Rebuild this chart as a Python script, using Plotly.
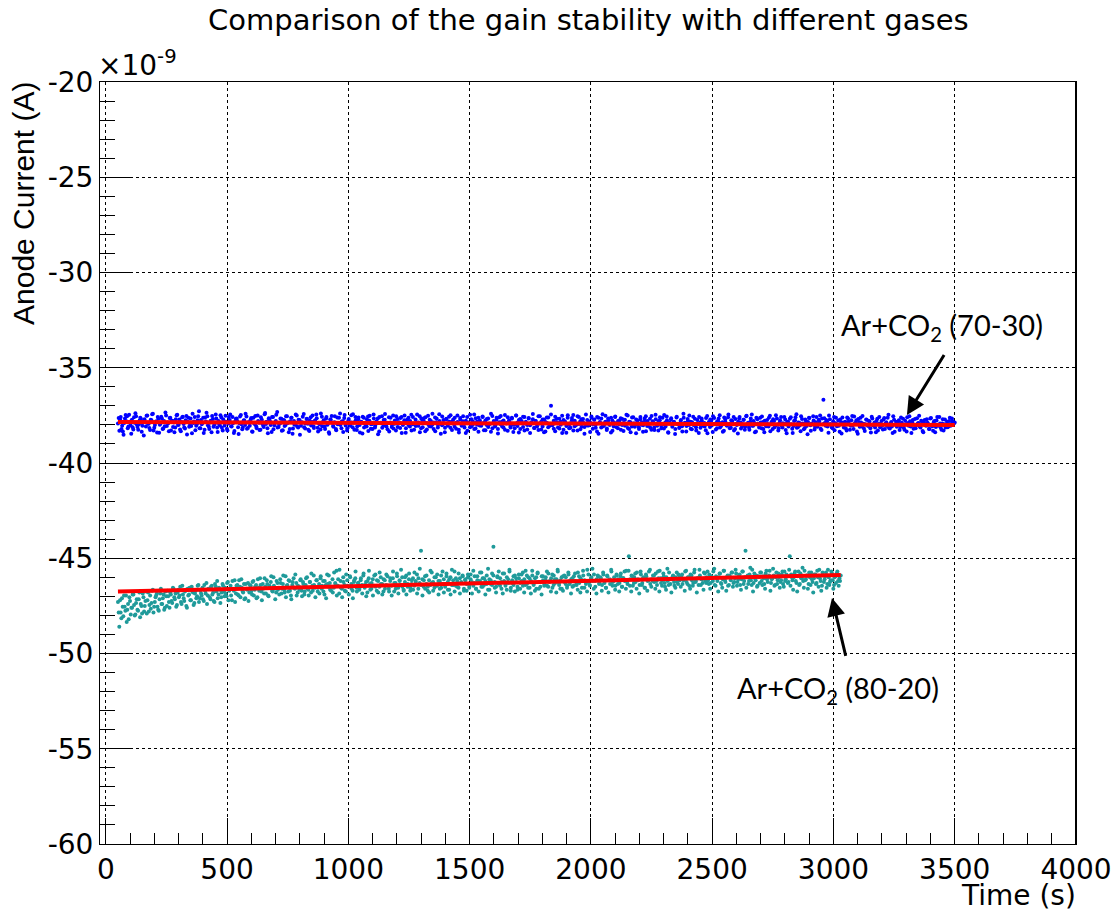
import numpy as np
import plotly.graph_objects as go

# ---------------- data (anode current in units of 1e-9 A) ----------------
# two interleaved sampling grids per gas mixture
time_range_7030_a = [50, 3500]
time_range_7030_b = [53, 3497]
time_range_8020_a = [50, 3030]
time_range_8020_b = [53, 3027]

current_7030_a = [
    -37.92,-38.31,-37.58,-38.05,-38.52,-37.66,-37.81,-38.18,-37.47,-38.02,-37.73,-38.24,-37.89,-37.55,-38.11,-37.97,-37.62,-38.36,-37.84,-37.70,
    -38.08,-37.51,-37.94,-38.27,-37.76,-37.42,-38.15,-37.86,-38.40,-37.68,-37.99,-37.57,-38.21,-37.80,-37.35,-38.06,-37.91,-37.64,-38.29,-37.78,
    -37.87,-38.13,-37.49,-38.01,-37.72,-38.33,-37.60,-37.95,-38.19,-37.53,-37.83,-38.10,-37.67,-38.44,-37.90,-37.58,-38.04,-37.75,-37.29,-38.17,
    -37.96,-37.63,-38.25,-37.82,-37.54,-38.09,-37.88,-38.38,-37.69,-37.98,-37.45,-38.14,-37.79,-38.03,-37.61,-38.30,-37.85,-37.52,-38.20,-37.93,
    -37.74,-38.07,-37.59,-38.42,-37.81,-37.66,-38.12,-37.91,-37.48,-38.23,-37.77,-38.00,-37.56,-38.16,-37.86,-37.71,-38.34,-37.63,-37.97,-38.09,
    -37.50,-37.89,-38.26,-37.73,-38.05,-37.44,-37.95,-38.18,-37.65,-37.84,-38.37,-37.58,-38.02,-37.79,-37.32,-38.11,-37.92,-37.68,-38.28,-37.76,
    -38.01,-37.55,-37.87,-38.21,-37.62,-38.46,-37.80,-37.97,-37.51,-38.13,-37.74,-38.04,-37.88,-37.43,-38.19,-37.69,-37.94,-38.32,-37.60,-37.85,
    -38.07,-37.77,-37.46,-38.15,-37.90,-38.24,-37.57,-37.83,-38.10,-37.67,-37.99,-38.39,-37.72,-37.53,-38.06,-37.86,-38.22,-37.61,-37.93,-37.40,
    -38.17,-37.81,-37.64,-38.03,-38.30,-37.75,-37.96,-37.49,-38.12,-37.88,-37.59,-38.27,-37.70,-38.00,-37.84,-38.45,-37.63,-37.91,-38.08,-37.56,
    -37.78,-38.20,-37.95,-37.45,-38.14,-37.82,-37.66,-38.35,-37.89,-37.54,-38.05,-37.73,-37.98,-38.23,-37.60,-37.87,-38.11,-37.50,-37.94,-38.29,
    -37.69,-37.92,-38.16,-37.58,-38.01,-37.76,-38.41,-37.85,-37.62,-38.09,-37.47,-37.97,-38.25,-37.71,-37.88,-38.04,-37.55,-38.18,-37.80,-37.65,
    -38.33,-37.90,-37.52,-38.07,-37.79,-37.99,-38.21,-37.61,-37.86,-38.13,-37.44,-37.93,-38.02,-37.74,-38.38,-37.68,-37.96,-37.57,-38.15,-37.83,
    -37.72,-38.10,-37.89,-37.50,-38.26,-37.64,-38.05,-37.81,-37.95,-38.43,-37.59,-37.87,-38.12,-37.70,-37.98,-37.46,-38.19,-37.84,-37.63,-38.03,
    -37.91,-37.56,-38.28,-37.77,-38.00,-37.67,-37.94,-38.36,-37.53,-37.85,-38.08,-37.73,-38.22,-37.60,-37.97,-37.82,-38.14,-37.48,-37.90,-38.31,
    -37.75,-38.06,-37.62,-37.99,-38.18,-37.51,-37.88,-38.40,-37.69,-37.80,-38.11,-37.58,-37.93,-38.24,-37.66,-38.02,-37.86,-37.43,-38.16,-37.79,
    -37.96,-38.27,-37.54,-37.83,-38.09,-37.71,-38.35,-37.89,-37.61,-38.04,-37.00,-37.94,-38.20,-37.57,-37.86,-38.13,-37.68,-37.99,-38.42,-37.74,
    -37.82,-38.06,-37.49,-38.17,-37.91,-37.64,-38.29,-37.78,-38.01,-37.55,-37.95,-38.23,-37.70,-37.87,-38.11,-37.45,-38.03,-37.81,-38.37,-37.62,
    -37.98,-37.73,-38.15,-37.59,-38.46,-37.85,-37.67,-38.08,-37.92,-37.52,-38.19,-37.77,-38.00,-37.63,-38.31,-37.88,-37.56,-38.12,-37.80,-37.97,
    -38.25,-37.69,-37.90,-38.05,-37.47,-38.16,-37.84,-38.38,-37.61,-37.93,-38.10,-37.72,-37.99,-38.21,-37.58,-37.86,-38.02,-37.66,-38.33,-37.79,
    -37.94,-38.14,-37.53,-37.87,-38.27,-37.70,-38.04,-37.82,-37.60,-38.18,-37.96,-37.48,-38.09,-37.75,-38.41,-37.89,-37.65,-38.01,-37.83,-38.22,
    -37.57,-37.97,-38.12,-37.74,-38.35,-37.62,-37.91,-38.06,-37.80,-37.51,-38.20,-37.86,-38.00,-37.68,-38.29,-37.93,-37.59,-38.15,-37.78,-37.99,
    -38.08,-37.64,-38.44,-37.85,-37.72,-38.03,-37.55,-37.95,-38.24,-37.81,-37.67,-38.13,-37.90,-38.36,-37.61,-37.88,-38.05,-37.46,-38.17,-37.76,
    -37.92,-38.30,-37.69,-38.01,-37.84,-37.58,-38.19,-37.97,-37.73,-38.10,-37.52,-37.89,-38.26,-37.66,-38.04,-37.80,-38.39,-37.63,-37.94,-38.14,
    -37.87,-37.56,-38.21,-37.78,-38.07,-37.95,-37.62,-38.33,-37.83,-37.70,-38.12,-37.49,-37.99,-38.18,-37.75,-38.02,-37.91,-37.58,-38.27,-37.86,
    -38.09,-37.68,-37.96,-38.42,-37.79,-37.60,-38.15,-37.88,-38.03,-37.54,-37.93,-38.23,-37.71,-38.06,-37.85,-37.64,-38.31,-37.97,-37.77,-38.11,
    -37.59,-38.00,-37.82,-38.20,-37.67,-36.68,-37.90,-37.74,-38.08,-37.50,-37.95,-38.14,-37.81,-38.28,-37.63,-37.98,-38.05,-37.72,-38.45,-37.87,
    -37.93,-38.17,-37.61,-37.84,-38.25,-37.76,-38.02,-37.56,-37.91,-38.34,-37.69,-38.10,-37.88,-37.53,-38.19,-37.97,-37.73,-38.06,-37.82,-38.40,
    -37.66,-37.99,-38.13,-37.79,-38.30,-37.58,-37.94,-38.04,-37.71,-38.22,-37.86,-37.63,-38.16,-37.92,-38.08,-37.55,-38.36,-37.83,-38.01,-37.75,
    -38.11,-37.89,-37.68,-38.26,-37.96,-37.60,-38.05,-37.81,-38.43,-37.74,-37.99,-38.18,-37.65,-37.90,-38.09,-37.78,-38.32,-37.87,-38.02,-37.70,
    -37.95,-38.21,-37.64,-38.07,-37.85,-38.38,-37.77,-38.00,-37.59,-38.15,-37.92,-38.29,-37.72,-37.98,-38.12,-37.80,-38.04,-37.67,-37.93,-37.88,
]

current_7030_b = [
    -37.64,-37.71,-38.22,-38.35,-37.90,-37.48,-37.55,-38.09,-37.83,-38.47,-38.12,-37.60,-37.39,-37.98,-38.26,-37.77,-37.69,-38.04,-38.55,-37.86,
    -37.52,-37.94,-38.16,-37.73,-37.44,-38.30,-38.01,-37.81,-37.58,-38.41,-37.92,-37.66,-38.19,-38.07,-37.50,-37.87,-38.33,-37.62,-37.79,-38.11,
    -38.38,-37.70,-37.47,-37.99,-38.24,-37.85,-37.57,-38.14,-37.76,-38.50,-37.63,-37.93,-38.06,-37.41,-37.82,-38.28,-37.96,-37.54,-38.18,-37.74,
    -37.88,-38.43,-37.61,-37.36,-38.02,-38.21,-37.78,-37.53,-38.10,-37.89,-37.67,-38.37,-37.95,-37.49,-38.15,-37.72,-38.03,-37.84,-38.29,-37.59,
    -37.45,-38.08,-37.91,-38.32,-37.68,-37.80,-38.48,-37.56,-37.97,-38.13,-37.75,-37.42,-38.20,-37.86,-38.05,-37.64,-38.36,-37.90,-37.53,-38.17,
    -37.79,-38.27,-37.60,-37.94,-38.11,-37.38,-37.83,-38.44,-37.70,-38.00,-37.58,-38.23,-37.88,-37.47,-38.14,-37.95,-37.66,-38.31,-37.74,-38.06,
    -37.55,-37.90,-38.39,-37.81,-37.62,-38.19,-37.99,-37.46,-38.08,-37.73,-38.52,-37.86,-37.57,-38.12,-37.93,-37.68,-38.25,-37.78,-38.03,-37.50,
    -38.16,-37.84,-37.65,-38.34,-37.97,-37.40,-38.07,-37.76,-38.21,-37.59,-37.92,-38.46,-37.71,-37.87,-38.10,-37.54,-38.28,-37.96,-37.63,-38.01,
    -37.82,-38.37,-37.48,-37.94,-38.18,-37.69,-38.05,-37.88,-37.44,-38.26,-37.75,-38.09,-37.61,-38.40,-37.85,-37.57,-38.13,-37.98,-37.70,-38.32,
    -37.52,-37.96,-38.22,-37.67,-38.04,-37.83,-38.49,-37.58,-37.91,-38.15,-37.74,-37.43,-38.08,-37.89,-38.35,-37.62,-37.99,-38.19,-37.77,-37.55,
    -38.11,-37.86,-37.64,-38.42,-37.93,-37.51,-38.17,-37.72,-38.02,-37.80,-38.29,-37.59,-37.95,-38.06,-37.45,-37.88,-38.38,-37.68,-38.12,-37.84,
    -37.60,-38.24,-37.97,-37.73,-38.09,-37.41,-37.87,-38.33,-37.66,-38.01,-37.79,-38.47,-37.56,-37.92,-38.15,-37.70,-38.05,-37.83,-37.49,-38.27,
    -37.94,-37.62,-38.20,-37.85,-38.40,-37.71,-37.98,-37.54,-38.13,-37.78,-38.31,-37.90,-37.47,-38.07,-37.82,-38.22,-37.65,-37.99,-38.36,-37.75,
    -38.04,-37.58,-37.89,-38.28,-37.69,-38.11,-37.95,-37.42,-38.18,-37.80,-38.03,-37.63,-38.45,-37.86,-37.53,-38.09,-37.77,-38.25,-37.92,-37.60,
    -37.81,-38.14,-37.67,-38.37,-37.96,-37.50,-38.06,-37.74,-38.21,-37.88,-37.57,-38.30,-37.84,-38.00,-37.64,-38.43,-37.91,-37.70,-38.16,-37.79,
    -38.08,-37.55,-37.93,-38.24,-37.72,-38.39,-37.85,-37.61,-38.12,-37.97,-37.46,-38.02,-37.78,-38.33,-37.68,-37.90,-38.19,-37.83,-37.52,-38.26,
    -37.87,-38.41,-37.63,-37.99,-38.15,-37.76,-37.48,-38.07,-37.92,-38.29,-37.59,-37.81,-38.10,-37.69,-38.47,-37.95,-37.74,-38.03,-37.86,-37.56,
    -38.20,-37.71,-37.98,-38.35,-37.62,-37.89,-38.13,-37.44,-38.05,-37.83,-38.27,-37.67,-37.94,-38.40,-37.77,-38.09,-37.58,-37.91,-38.17,-37.80,
    -37.65,-38.01,-38.32,-37.73,-37.96,-37.51,-38.22,-37.86,-38.08,-37.60,-37.93,-38.44,-37.79,-38.12,-37.70,-37.99,-38.36,-37.84,-37.54,-38.06,
    -37.92,-37.68,-38.25,-37.81,-38.14,-37.47,-37.97,-38.30,-37.75,-38.03,-37.63,-38.19,-37.88,-37.56,-38.38,-37.90,-37.72,-38.10,-37.85,-38.48,
    -37.61,-37.95,-38.16,-37.78,-38.07,-37.42,-37.89,-38.34,-37.69,-38.00,-37.83,-38.23,-37.57,-37.96,-38.12,-37.74,-38.42,-37.87,-37.66,-38.04,
    -37.90,-38.28,-37.53,-37.98,-38.11,-37.77,-38.37,-37.64,-37.93,-38.18,-37.82,-37.49,-38.06,-37.86,-38.31,-37.71,-38.02,-37.60,-37.95,-38.15,
    -37.80,-37.58,-38.21,-37.94,-38.45,-37.67,-37.88,-38.09,-37.73,-38.26,-37.55,-37.99,-38.13,-37.84,-37.46,-38.05,-37.91,-38.35,-37.70,-38.01,
    -37.62,-38.17,-37.85,-38.39,-37.97,-37.74,-38.08,-37.52,-37.90,-38.22,-37.79,-38.03,-37.66,-38.30,-37.87,-37.58,-38.14,-37.95,-37.71,-38.44,
    -37.83,-37.98,-37.60,-38.20,-38.06,-37.76,-37.44,-38.12,-37.89,-38.33,-37.69,-37.94,-38.16,-37.81,-38.49,-37.63,-38.02,-37.92,-37.55,-38.24,
    -37.86,-38.10,-37.73,-37.50,-38.27,-37.96,-37.65,-38.04,-37.82,-38.41,-37.70,-37.99,-38.18,-37.58,-37.91,-38.07,-37.77,-38.36,-37.88,-37.61,
    -38.13,-37.84,-38.29,-37.67,-37.97,-38.05,-37.53,-38.21,-37.90,-37.75,-38.46,-37.86,-37.62,-38.09,-37.94,-38.32,-37.71,-38.00,-37.80,-38.17,
    -37.57,-38.03,-37.88,-38.38,-37.68,-37.95,-38.12,-37.79,-38.24,-37.64,-37.92,-38.06,-37.47,-38.19,-37.85,-38.43,-37.73,-37.98,-38.10,-37.83,
    -38.27,-37.61,-37.96,-38.15,-37.78,-38.35,-37.90,-37.55,-38.08,-37.87,-38.20,-37.69,-38.01,-37.93,-37.52,-38.14,-37.82,-38.39,-37.74,-38.05,
    -37.89,-38.22,-37.66,-37.99,-38.31,-37.80,-38.11,-37.59,-38.04,-37.92,-38.26,-37.70,-37.97,-38.13,-37.84,-38.07,-37.63,-37.95,-37.81,-37.91,
]

current_8020_a = [
    -47.30,-48.60,-47.85,-47.10,-48.05,-47.55,-46.95,-47.70,-48.20,-47.25,-47.60,-46.90,-47.45,-47.95,-47.15,-47.75,-46.80,-47.40,-47.90,-47.05,
    -47.50,-46.75,-47.20,-47.80,-46.95,-47.35,-46.65,-47.55,-47.05,-46.85,-47.70,-47.15,-46.60,-47.40,-46.90,-47.60,-47.00,-46.70,-47.30,-46.80,
    -47.25,-46.55,-47.05,-46.85,-47.45,-46.65,-46.95,-47.30,-46.45,-47.10,-46.75,-47.50,-46.60,-46.90,-47.20,-46.50,-46.80,-47.35,-46.70,-47.00,
    -46.40,-47.10,-46.85,-46.55,-47.25,-46.70,-46.30,-46.95,-46.60,-47.15,-46.45,-46.80,-47.30,-46.50,-46.20,-46.90,-46.65,-47.05,-46.35,-46.75,
    -46.55,-47.00,-46.25,-46.70,-46.45,-47.20,-46.60,-46.15,-46.85,-46.40,-46.95,-46.50,-46.10,-46.75,-46.35,-47.10,-46.60,-46.30,-46.80,-46.45,
    -46.90,-46.20,-46.65,-46.40,-47.05,-46.55,-46.05,-46.75,-46.35,-46.85,-46.50,-46.15,-46.95,-46.45,-46.25,-46.70,-46.00,-46.60,-46.80,-46.30,
    -46.55,-46.10,-46.85,-46.35,-46.65,-45.95,-46.45,-46.75,-46.20,-46.95,-46.40,-46.05,-46.60,-46.30,-46.80,-46.50,-46.15,-46.70,-46.25,-46.90,
    -46.40,-46.00,-46.65,-46.25,-46.80,-46.45,-45.90,-46.55,-46.15,-46.75,-46.35,-46.05,-46.60,-46.20,-46.90,-46.40,-45.85,-46.50,-46.30,-46.70,
    -46.10,-46.55,-46.30,-45.65,-46.45,-46.85,-46.20,-46.60,-46.00,-46.40,-46.75,-46.15,-46.50,-45.95,-46.35,-46.70,-46.25,-46.05,-46.55,-46.30,
    -46.65,-46.15,-46.40,-45.90,-46.55,-46.25,-46.80,-46.05,-46.35,-46.60,-46.10,-46.45,-45.85,-46.70,-46.20,-46.50,-46.00,-46.35,-46.75,-46.15,
    -46.40,-45.95,-46.60,-46.20,-46.45,-46.05,-46.75,-46.30,-45.80,-46.55,-46.15,-46.40,-46.00,-46.65,-46.25,-45.90,-46.50,-46.10,-46.70,-46.35,
    -46.05,-46.45,-46.20,-45.85,-46.60,-46.30,-44.60,-46.10,-46.50,-45.95,-46.35,-46.70,-46.15,-46.40,-45.75,-46.25,-46.55,-46.00,-46.45,-46.20,
    -46.60,-45.90,-46.35,-46.10,-46.50,-45.80,-46.25,-46.65,-46.00,-46.40,-46.15,-45.70,-46.45,-46.20,-46.55,-46.05,-46.30,-45.95,-46.70,-46.10,
    -46.35,-46.00,-46.55,-45.85,-46.25,-46.45,-45.95,-46.60,-46.15,-46.30,-45.75,-46.50,-46.05,-46.40,-46.20,-45.90,-46.65,-46.10,-46.35,-45.80,
    -44.40,-46.25,-46.50,-45.95,-46.35,-46.05,-46.60,-45.80,-46.20,-46.45,-46.00,-46.30,-45.70,-46.55,-46.15,-46.40,-45.90,-46.25,-46.65,-46.05,
    -46.30,-45.85,-46.45,-46.10,-45.65,-46.35,-46.00,-46.55,-46.20,-45.90,-46.40,-46.05,-46.60,-45.75,-46.25,-46.50,-45.95,-46.15,-46.35,-46.00,
    -46.45,-45.80,-46.20,-46.05,-46.55,-45.90,-46.30,-46.10,-45.70,-46.40,-46.15,-46.60,-45.95,-46.25,-46.00,-46.45,-45.85,-46.35,-46.10,-46.50,
    -45.95,-46.20,-46.40,-45.75,-46.30,-46.05,-46.55,-45.90,-46.15,-46.35,-45.60,-46.25,-46.45,-46.00,-46.20,-45.85,-46.50,-46.10,-45.95,-46.30,
    -46.05,-46.40,-45.85,-46.20,-46.55,-45.95,-46.15,-46.35,-45.70,-46.25,-46.00,-46.45,-45.90,-46.10,-46.30,-45.80,-46.50,-46.05,-46.20,-45.65,
    -46.35,-44.90,-46.10,-45.90,-46.45,-46.00,-46.25,-45.75,-46.15,-46.40,-45.85,-46.30,-46.05,-46.55,-45.95,-46.20,-45.70,-46.35,-46.10,-45.90,
    -46.25,-45.80,-46.40,-46.05,-45.65,-46.30,-46.15,-45.95,-46.50,-46.00,-46.20,-45.75,-46.35,-46.10,-45.90,-46.45,-46.00,-46.25,-45.85,-46.15,
    -45.95,-46.35,-46.10,-45.70,-46.25,-46.00,-46.45,-45.85,-46.15,-46.30,-45.60,-46.20,-46.05,-46.40,-45.90,-46.10,-46.30,-45.75,-46.20,-46.00,
    -46.15,-45.85,-46.30,-46.05,-45.70,-46.40,-45.95,-46.20,-46.00,-45.80,-46.35,-46.10,-45.65,-46.25,-46.00,-46.45,-45.90,-46.15,-45.75,-46.30,
    -46.05,-45.80,-46.25,-45.95,-46.40,-46.10,-45.70,-46.20,-44.60,-46.00,-46.35,-45.85,-46.15,-45.60,-46.30,-46.05,-45.90,-46.45,-46.00,-45.75,
    -46.20,-45.95,-46.35,-45.80,-46.10,-46.00,-45.65,-46.30,-46.05,-45.90,-46.40,-45.75,-46.15,-46.00,-46.25,-45.85,-46.35,-45.70,-46.10,-45.95,
    -46.25,-44.90,-45.85,-46.15,-46.00,-45.70,-46.30,-45.95,-46.40,-45.80,-46.05,-46.20,-45.65,-46.10,-45.90,-46.35,-46.00,-45.75,-46.25,-46.05,
    -45.85,-46.30,-46.00,-45.60,-46.20,-46.45,-45.90,-46.10,-45.75,-46.35,-46.00,-46.25,-45.70,-46.15,-46.40,-45.95,-45.80,-46.20,-46.05,-45.90,
]

current_8020_b = [
    -47.85,-47.20,-48.15,-47.55,-46.95,-47.75,-48.35,-47.40,-47.05,-47.95,-47.60,-46.90,-48.00,-47.35,-47.70,-47.15,-48.10,-47.50,-46.85,-47.80,
    -47.25,-47.90,-46.80,-47.45,-47.65,-46.70,-47.85,-47.30,-46.95,-47.55,-47.75,-46.85,-47.40,-47.10,-47.70,-46.75,-47.50,-47.00,-47.60,-46.90,
    -47.35,-46.60,-47.15,-47.55,-46.80,-47.05,-46.50,-47.40,-46.90,-47.25,-46.65,-47.60,-46.95,-46.55,-47.20,-46.75,-47.45,-46.85,-47.10,-46.45,
    -47.30,-46.70,-46.95,-47.15,-46.40,-46.85,-47.40,-46.60,-47.05,-46.50,-46.90,-47.25,-46.35,-46.75,-47.10,-46.55,-47.35,-46.80,-46.45,-47.00,
    -46.85,-46.30,-47.20,-46.60,-46.95,-46.20,-46.70,-47.30,-46.45,-46.90,-46.15,-47.05,-46.55,-46.80,-47.15,-46.35,-46.65,-47.25,-46.40,-46.75,
    -46.25,-46.95,-46.50,-47.10,-46.10,-46.70,-46.40,-47.20,-46.60,-46.05,-46.85,-46.35,-47.00,-46.55,-45.95,-46.75,-46.45,-47.15,-46.20,-46.65,
    -46.90,-46.30,-46.60,-45.90,-46.80,-47.05,-46.40,-46.15,-46.70,-47.15,-46.25,-46.55,-45.85,-46.95,-46.45,-46.65,-46.10,-47.00,-46.35,-46.75,
    -46.05,-46.60,-46.95,-46.25,-45.80,-46.70,-46.40,-47.05,-46.15,-46.55,-46.85,-45.95,-46.45,-46.75,-46.20,-47.10,-46.35,-45.90,-46.65,-46.50,
    -46.80,-45.75,-46.35,-46.95,-46.10,-45.60,-46.55,-47.05,-46.25,-46.70,-45.85,-46.45,-46.90,-46.00,-46.60,-47.10,-46.15,-45.70,-46.75,-46.30,
    -46.55,-46.05,-46.85,-45.80,-46.40,-47.00,-46.20,-45.65,-46.65,-46.30,-46.95,-45.90,-46.50,-46.15,-46.80,-45.75,-46.35,-46.90,-46.10,-46.60,
    -45.85,-46.45,-46.75,-46.05,-46.95,-45.70,-46.30,-46.60,-45.95,-46.85,-46.20,-45.60,-46.50,-46.70,-46.00,-46.90,-46.35,-45.80,-46.55,-46.15,
    -46.65,-45.75,-46.25,-46.85,-46.05,-45.55,-46.40,-46.95,-46.15,-46.60,-45.90,-46.50,-46.80,-45.65,-46.30,-46.70,-46.00,-46.45,-45.85,-46.90,
    -46.20,-46.55,-45.70,-46.80,-46.35,-45.95,-46.65,-46.10,-46.90,-45.60,-46.40,-46.75,-46.05,-46.50,-45.80,-46.85,-46.25,-45.90,-46.60,-46.15,
    -46.70,-45.85,-46.45,-46.10,-46.85,-45.65,-46.30,-46.60,-45.95,-46.75,-46.20,-45.75,-46.50,-46.05,-46.90,-46.35,-45.55,-46.65,-46.15,-46.40,
    -45.90,-46.55,-46.80,-46.00,-45.70,-46.45,-46.25,-46.85,-45.80,-46.35,-46.65,-46.10,-45.60,-46.70,-46.30,-45.95,-46.75,-46.05,-46.50,-45.85,
    -46.60,-46.20,-45.75,-46.80,-46.40,-45.90,-46.55,-46.05,-46.85,-45.65,-46.35,-46.70,-46.00,-45.80,-46.60,-46.25,-46.90,-45.95,-46.45,-46.15,
    -45.70,-46.50,-46.25,-46.75,-45.85,-46.40,-46.10,-46.80,-45.60,-46.30,-46.60,-46.00,-46.70,-45.90,-46.35,-46.55,-45.75,-46.20,-46.85,-46.05,
    -46.45,-45.80,-46.30,-46.65,-45.95,-46.80,-46.15,-45.65,-46.55,-46.25,-46.75,-45.85,-46.40,-46.05,-45.55,-46.60,-46.20,-46.85,-45.90,-46.35,
    -46.00,-46.70,-45.75,-46.30,-46.55,-45.90,-46.80,-46.10,-45.60,-46.45,-46.20,-46.65,-45.85,-46.35,-46.75,-45.95,-46.50,-46.05,-45.70,-46.60,
    -46.25,-45.65,-46.45,-46.75,-45.95,-46.30,-45.80,-46.60,-46.10,-46.85,-45.70,-46.40,-46.00,-46.55,-45.85,-46.70,-46.15,-45.60,-46.50,-46.20,
    -45.90,-46.60,-46.20,-45.70,-46.75,-46.05,-46.45,-45.80,-46.30,-46.65,-45.55,-46.40,-46.10,-46.80,-45.95,-46.25,-46.55,-45.75,-46.35,-46.00,
    -46.50,-45.85,-46.15,-46.70,-45.65,-46.35,-46.00,-46.60,-45.90,-46.45,-45.75,-46.25,-46.80,-46.05,-45.60,-46.40,-46.10,-46.65,-45.80,-46.30,
    -45.70,-46.35,-46.60,-45.95,-46.20,-45.55,-46.45,-46.05,-46.75,-45.80,-46.30,-46.55,-45.65,-46.15,-46.70,-45.90,-46.40,-46.00,-45.75,-46.50,
    -46.25,-45.60,-46.45,-46.10,-45.85,-46.65,-45.70,-46.35,-46.00,-46.55,-45.90,-46.20,-45.50,-46.40,-46.75,-45.80,-46.15,-46.50,-45.95,-46.30,
    -45.75,-46.40,-46.05,-46.60,-45.65,-46.25,-45.90,-46.70,-46.10,-45.55,-46.45,-46.00,-46.35,-45.80,-46.55,-46.15,-45.70,-46.50,-46.20,-45.85,
    -46.30,-45.60,-46.45,-46.00,-46.65,-45.80,-46.20,-46.75,-45.70,-46.35,-46.05,-45.50,-46.55,-46.15,-45.90,-46.60,-45.75,-46.40,-46.10,-46.80,
    -45.85,-46.35,-45.65,-46.50,-46.05,-46.70,-45.75,-46.25,-45.95,-46.55,-45.60,-46.40,-46.15,-45.80,-46.60,-46.00,-46.30,-45.70,-46.45,-46.20,
]

# linear fits (end points, 1e-9 A)
fit_7030_t = [50, 3500]
fit_7030_y = [-37.85, -38.00]
fit_8020_t = [50, 3030]
fit_8020_y = [-46.75, -45.88]

# annotation anchors (data units)
label_7030 = {"text": "Ar+CO<sub>2</sub> (70-30)", "x": 3447, "y": -32.85}
arrow_7030 = {"x": 3303, "y": -37.48, "ax": 3460, "ay": -34.25}
label_8020 = {"text": "Ar+CO<sub>2</sub> (80-20)", "x": 3019, "y": -51.9}
arrow_8020 = {"x": 2994, "y": -47.09, "ax": 3052, "ay": -50.2}

x_range = [-24, 4000]
y_range = [-60, -20]
x_ticks = [0, 500, 1000, 1500, 2000, 2500, 3000, 3500, 4000]
y_ticks = [-60, -55, -50, -45, -40, -35, -30, -25, -20]
y_tick_text = ["-60", "-55", "-50", "-45", "-40", "-35", "-30", "-25", "-20"]

# ---------------- assemble series ----------------
t_7030 = np.concatenate([
    np.linspace(time_range_7030_a[0], time_range_7030_a[1], len(current_7030_a)),
    np.linspace(time_range_7030_b[0], time_range_7030_b[1], len(current_7030_b))])
y_7030 = current_7030_a + current_7030_b
t_8020 = np.concatenate([
    np.linspace(time_range_8020_a[0], time_range_8020_a[1], len(current_8020_a)),
    np.linspace(time_range_8020_b[0], time_range_8020_b[1], len(current_8020_b))])
y_8020 = current_8020_a + current_8020_b

BLUE = "#0000ff"
TEAL = "#1f9a9a"
RED = "#ff0000"
TICK_FONT = dict(family="DejaVu Sans", size=28, color="black")

fig = go.Figure()
fig.add_trace(go.Scatter(x=t_7030, y=y_7030, mode="markers",
                         marker=dict(color=BLUE, size=4, line=dict(width=0)),
                         name="Ar+CO2 (70-30)", showlegend=False))
fig.add_trace(go.Scatter(x=t_8020, y=y_8020, mode="markers",
                         marker=dict(color=TEAL, size=4, line=dict(width=0)),
                         name="Ar+CO2 (80-20)", showlegend=False))
fig.add_trace(go.Scatter(x=fit_7030_t, y=fit_7030_y, mode="lines",
                         line=dict(color=RED, width=4), showlegend=False))
fig.add_trace(go.Scatter(x=fit_8020_t, y=fit_8020_y, mode="lines",
                         line=dict(color=RED, width=4), showlegend=False))

axis_common = dict(
    showline=True, linecolor="black", linewidth=1, mirror=True,
    ticks="inside", tickcolor="black", tickwidth=1,
    showgrid=True, gridcolor="black", gridwidth=1, griddash="dot",
    zeroline=False, tickfont=TICK_FONT, automargin=False,
)

fig.update_xaxes(range=x_range, tickvals=x_ticks, ticklen=26,
                 minor=dict(dtick=100, ticks="inside", ticklen=11, tickcolor="black",
                            showgrid=False),
                 **axis_common)
fig.update_yaxes(range=y_range, tickvals=y_ticks, ticktext=y_tick_text, ticklen=30,
                 minor=dict(dtick=1, ticks="inside", ticklen=15, tickcolor="black",
                            showgrid=False),
                 **axis_common)

annotations = [
    dict(text="Comparison of the gain stability with different gases",
         xref="paper", yref="paper", x=0.5, y=1, yshift=62, xanchor="center",
         yanchor="middle", showarrow=False,
         font=dict(family="DejaVu Sans", size=29, color="black")),
    dict(text="×10<sup>-9</sup>", xref="paper", yref="paper", x=0, y=1,
         xshift=-4, yshift=-2, xanchor="left", yanchor="bottom", showarrow=False,
         font=dict(family="DejaVu Sans", size=28, color="black")),
    dict(text="Anode Current (A)", xref="paper", yref="paper", x=0, y=1,
         xshift=-58, yshift=2, xanchor="right", yanchor="top", textangle=-90,
         showarrow=False,
         font=dict(family="Liberation Sans", size=30, color="black")),
    dict(text="Time (s)", xref="paper", yref="paper", x=1, y=0,
         xshift=2, yshift=-51, xanchor="right", yanchor="middle",
         showarrow=False,
         font=dict(family="DejaVu Sans", size=28, color="black")),
]
for lab in (label_7030, label_8020):
    annotations.append(dict(text=lab["text"], x=lab["x"], y=lab["y"], xref="x", yref="y",
                            showarrow=False, xanchor="center", yanchor="middle",
                            font=dict(family="Lato", size=29, color="black")))
for arr in (arrow_7030, arrow_8020):
    annotations.append(dict(text="", x=arr["x"], y=arr["y"], ax=arr["ax"], ay=arr["ay"],
                            xref="x", yref="y", axref="x", ayref="y",
                            showarrow=True, arrowhead=2, arrowsize=1.2,
                            arrowwidth=3, arrowcolor="black"))

fig.update_layout(
    width=1116, height=911,
    margin=dict(l=100, r=40, t=82, b=67),
    paper_bgcolor="white", plot_bgcolor="white",
    annotations=annotations,
    shapes=[dict(type="line", xref="paper", yref="paper", x0=1, x1=1, y0=0, y1=1,
                 line=dict(color="black", width=2))],
    showlegend=False,
)

fig.write_html("out.html")
